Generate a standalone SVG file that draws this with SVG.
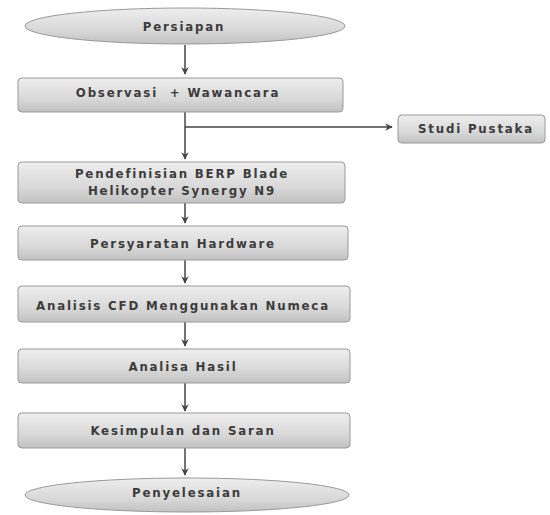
<svg xmlns="http://www.w3.org/2000/svg" width="550" height="515" viewBox="0 0 550 515">
<style>
.box{fill:url(#g);stroke:#9a9a9a;stroke-width:1}
.t{font-family:"DejaVu Sans","Liberation Sans",sans-serif;font-size:11.8px;font-weight:bold;fill:#3c3c3c;text-anchor:middle;letter-spacing:1.8px}
.c{stroke:#444;stroke-width:1.5;fill:none}
</style>
<defs>
<linearGradient id="g" x1="0" y1="0" x2="0" y2="1">
<stop offset="0" stop-color="#eeeeee"/>
<stop offset="0.6" stop-color="#d9d9d9"/>
<stop offset="1" stop-color="#c2c2c2"/>
</linearGradient>
<marker id="a" viewBox="0 0 10 10" refX="9" refY="5" markerWidth="5" markerHeight="5" orient="auto">
<path d="M0,0 L10,5 L0,10 L3,5 Z" fill="#444"/>
</marker>
</defs>
<rect width="550" height="515" fill="#ffffff"/>
<g id="connectors">
<line class="c" x1="185" y1="45" x2="185" y2="74" marker-end="url(#a)"/>
<line class="c" x1="185" y1="112" x2="185" y2="159" marker-end="url(#a)"/>
<line class="c" x1="185" y1="127" x2="392" y2="127" marker-end="url(#a)" stroke-width="1.2"/>
<line class="c" x1="185" y1="203" x2="185" y2="223" marker-end="url(#a)"/>
<line class="c" x1="185" y1="260" x2="185" y2="283" marker-end="url(#a)"/>
<line class="c" x1="185" y1="322" x2="185" y2="346" marker-end="url(#a)"/>
<line class="c" x1="185" y1="383" x2="185" y2="411" marker-end="url(#a)"/>
<line class="c" x1="185" y1="448" x2="185" y2="475" marker-end="url(#a)"/>
</g>
<g id="persiapan">
<ellipse class="box" cx="185" cy="26" rx="160" ry="18"/>
<text class="t" x="184" y="31">Persiapan</text>
</g>
<g id="observasi">
<rect class="box" x="18" y="78" width="325" height="34" rx="4"/>
<text class="t" x="178" y="97">Observasi&#160; + Wawancara</text>
</g>
<g id="studi">
<rect class="box" x="398" y="115" width="147" height="28" rx="4"/>
<text class="t" x="476" y="133">Studi Pustaka</text>
</g>
<g id="pendefinisian">
<rect class="box" x="18" y="162" width="327" height="41" rx="4"/>
<text class="t" x="182" y="178">Pendefinisian BERP Blade</text>
<text class="t" x="182" y="195">Helikopter Synergy N9</text>
</g>
<g id="persyaratan">
<rect class="box" x="18" y="226" width="330" height="34" rx="4"/>
<text class="t" x="183" y="248">Persyaratan Hardware</text>
</g>
<g id="analisis">
<rect class="box" x="18" y="286" width="332" height="36" rx="4"/>
<text class="t" x="183" y="310">Analisis CFD Menggunakan Numeca</text>
</g>
<g id="analisa">
<rect class="box" x="18" y="349" width="332" height="34" rx="4"/>
<text class="t" x="183" y="371">Analisa Hasil</text>
</g>
<g id="kesimpulan">
<rect class="box" x="18" y="413" width="332" height="35" rx="4"/>
<text class="t" x="183" y="435">Kesimpulan dan Saran</text>
</g>
<g id="penyelesaian">
<ellipse class="box" cx="187" cy="495" rx="162" ry="17"/>
<text class="t" x="187" y="497">Penyelesaian</text>
</g>
</svg>
